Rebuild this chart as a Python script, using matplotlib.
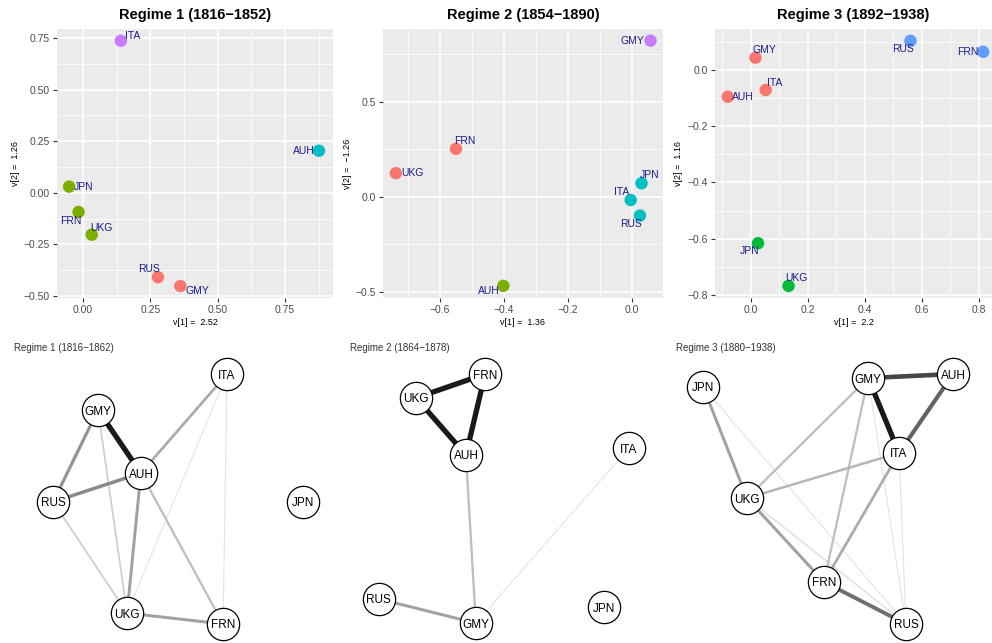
import numpy as np
import matplotlib.pyplot as plt
from matplotlib.ticker import FixedLocator

plt.rcParams['font.family'] = ['Liberation Sans', 'DejaVu Sans']

# --- Spectral embedding per regime (eigenvector coordinates) ---
COUNTRIES = ['AUH', 'FRN', 'GMY', 'ITA', 'JPN', 'RUS', 'UKG']

r1_v1 = [0.876, -0.017, 0.361, 0.140, -0.052, 0.278, 0.032]
r1_v2 = [0.204, -0.093, -0.452, 0.737, 0.030, -0.409, -0.203]
r1_cluster = [3, 2, 1, 4, 2, 1, 2]

r2_v1 = [-0.402, -0.550, 0.058, -0.004, 0.030, 0.025, -0.738]
r2_v2 = [-0.468, 0.253, 0.823, -0.016, 0.072, -0.098, 0.125]
r2_cluster = [2, 1, 4, 3, 3, 3, 1]

r3_v1 = [-0.081, 0.815, 0.016, 0.052, 0.025, 0.560, 0.132]
r3_v2 = [-0.095, 0.065, 0.044, -0.071, -0.616, 0.104, -0.768]
r3_cluster = [1, 3, 1, 1, 2, 3, 2]

eig_labels = [('v[1] =  2.52', 'v[2] =  1.26'),
              ('v[1] =  1.36', 'v[2] =  \u22121.26'),
              ('v[1] =  2.2', 'v[2] =  1.16')]
top_titles = ['Regime 1 (1816\u22121852)', 'Regime 2 (1854\u22121890)',
              'Regime 3 (1892\u22121938)']

# --- Alliance networks: layout coordinates and edge weights ---
net1_pos = {'ITA': (0.688, 0.934), 'GMY': (0.297, 0.809), 'AUH': (0.427, 0.590),
            'RUS': (0.161, 0.490), 'JPN': (0.918, 0.490), 'UKG': (0.385, 0.104),
            'FRN': (0.676, 0.066)}
net1_edges = [('GMY', 'AUH', 1.0), ('RUS', 'AUH', 0.6), ('GMY', 'RUS', 0.55),
              ('AUH', 'UKG', 0.5), ('AUH', 'ITA', 0.45), ('UKG', 'FRN', 0.5),
              ('AUH', 'FRN', 0.35), ('GMY', 'UKG', 0.25), ('RUS', 'UKG', 0.25),
              ('ITA', 'UKG', 0.1), ('ITA', 'FRN', 0.1)]

net2_pos = {'FRN': (0.470, 0.934), 'UKG': (0.261, 0.851), 'AUH': (0.412, 0.653),
            'ITA': (0.906, 0.677), 'RUS': (0.148, 0.153), 'GMY': (0.442, 0.069),
            'JPN': (0.830, 0.125)}
net2_edges = [('UKG', 'FRN', 1.0), ('FRN', 'AUH', 1.0), ('UKG', 'AUH', 1.0),
              ('AUH', 'GMY', 0.35), ('RUS', 'GMY', 0.5), ('GMY', 'ITA', 0.1)]

net3_pos = {'JPN': (0.130, 0.889), 'GMY': (0.627, 0.920), 'AUH': (0.883, 0.934),
            'ITA': (0.720, 0.660), 'UKG': (0.262, 0.503), 'FRN': (0.494, 0.212),
            'RUS': (0.741, 0.066)}
net3_edges = [('GMY', 'ITA', 1.0), ('GMY', 'AUH', 0.85), ('AUH', 'ITA', 0.75),
              ('FRN', 'RUS', 0.7), ('JPN', 'UKG', 0.5), ('UKG', 'FRN', 0.5),
              ('ITA', 'FRN', 0.45), ('UKG', 'ITA', 0.4), ('GMY', 'UKG', 0.35),
              ('GMY', 'FRN', 0.35), ('UKG', 'RUS', 0.15), ('JPN', 'RUS', 0.1),
              ('GMY', 'RUS', 0.1), ('ITA', 'RUS', 0.1)]
net_titles = ['Regime 1 (1816\u22121862)', 'Regime 2 (1864\u22121878)',
              'Regime 3 (1880\u22121938)']

# ggplot hue palettes
HUE4 = ['#F8766D', '#7CAE00', '#00BFC4', '#C77CFF']
HUE3 = ['#F8766D', '#00BA38', '#619CFF']

# label nudges in pixels (dx, dy, ha), dy positive = down
nudge1 = {'ITA': (4, -5, 'left'), 'AUH': (-4, 0, 'right'), 'JPN': (5, 0, 'left'),
          'FRN': (3, 9, 'right'), 'UKG': (-1, -7, 'left'), 'RUS': (2, -8, 'right'),
          'GMY': (5, 5, 'left')}
nudge2 = {'GMY': (-6, 0, 'right'), 'FRN': (-2, -8, 'left'), 'UKG': (5, 0, 'left'),
          'JPN': (-2, -8, 'left'), 'ITA': (-1, -8, 'right'), 'RUS': (2, 8, 'right'),
          'AUH': (-4, 5, 'right')}
nudge3 = {'RUS': (3, 8, 'right'), 'FRN': (-5, 0, 'right'), 'GMY': (-3, -8, 'left'),
          'ITA': (1, -7, 'left'), 'AUH': (4, 0, 'left'), 'JPN': (1, 8, 'right'),
          'UKG': (-3, -8, 'left')}

scatter_cfg = [
    (r1_v1, r1_v2, r1_cluster, HUE4, nudge1, (-0.097, 0.928), (-0.51, 0.794),
     [0.0, 0.25, 0.5, 0.75], [-0.5, -0.25, 0.0, 0.25, 0.5, 0.75], '{:.2f}', '{:.2f}'),
    (r2_v1, r2_v2, r2_cluster, HUE4, nudge2, (-0.778, 0.097), (-0.532, 0.884),
     [-0.6, -0.4, -0.2, 0.0], [-0.5, 0.0, 0.5], '{:.1f}', '{:.1f}'),
    (r3_v1, r3_v2, r3_cluster, HUE3, nudge3, (-0.126, 0.846), (-0.811, 0.146),
     [0.0, 0.2, 0.4, 0.6, 0.8], [-0.8, -0.6, -0.4, -0.2, 0.0], '{:.1f}', '{:.1f}'),
]

fig = plt.figure(figsize=(9.92, 6.43), dpi=100)
W, H = 992, 643

panel_px = [(57, 333), (383, 663), (715, 992)]
for i, cfg in enumerate(scatter_cfg):
    xs, ys, cl, pal, nudge, xl, yl, xt, yt, xf, yf = cfg
    x0, x1 = panel_px[i]
    ax = fig.add_axes([x0 / W, 1 - 298 / H, (x1 - x0) / W, 269 / H])
    ax.set_facecolor('#EBEBEB')
    ax.set_xlim(*xl)
    ax.set_ylim(*yl)
    ax.set_xticks(xt)
    ax.set_yticks(yt)
    ax.set_xticklabels([xf.format(v).replace('-', '\u2212') for v in xt])
    ax.set_yticklabels([yf.format(v).replace('-', '\u2212') for v in yt])
    sx = xt[1] - xt[0]
    sy = yt[1] - yt[0]
    ax.xaxis.set_minor_locator(FixedLocator(np.arange(xt[0] - sx * 1.5, xt[-1] + sx * 1.6, sx)))
    ax.yaxis.set_minor_locator(FixedLocator(np.arange(yt[0] - sy * 1.5, yt[-1] + sy * 1.6, sy)))
    ax.grid(which='major', color='white', linewidth=1.1)
    ax.grid(which='minor', color='white', linewidth=0.55)
    ax.set_axisbelow(True)
    for s in ax.spines.values():
        s.set_visible(False)
    ax.tick_params(which='major', length=3, color='#333333', labelsize=7.5,
                   labelcolor='#4D4D4D', width=0.8, pad=2)
    ax.tick_params(which='minor', length=0)
    ax.scatter(xs, ys, s=80, c=[pal[c - 1] for c in cl], linewidths=0, zorder=3)
    for name, x, y in zip(COUNTRIES, xs, ys):
        dx, dy, ha = nudge[name]
        ax.annotate(name, (x, y), xytext=(dx * 0.72, -dy * 0.72),
                    textcoords='offset points', ha=ha, va='center',
                    fontsize=7.5, color='#1C1C8C', zorder=4)
    ax.set_xlabel(eig_labels[i][0], fontsize=6.5, labelpad=2)
    ax.set_ylabel(eig_labels[i][1], fontsize=6.5, labelpad=3)
    ax.set_title(top_titles[i], fontsize=10.5, fontweight='bold', pad=7)

# bottom row: weighted alliance graphs
nets = [(net1_pos, net1_edges), (net2_pos, net2_edges), (net3_pos, net3_edges)]
region_px = [(0, 330), (330, 660), (660, 992)]
title_x = [14, 350, 676]
for i, (pos, edges) in enumerate(nets):
    x0, x1 = region_px[i]
    ax = fig.add_axes([x0 / W, 0, (x1 - x0) / W, 288 / H])
    ax.set_xlim(0, 1)
    ax.set_ylim(0, 1)
    ax.axis('off')
    for a, b, w in sorted(edges, key=lambda e: e[2]):
        g = 0.92 - 0.82 * w ** 1.5
        ax.plot([pos[a][0], pos[b][0]], [pos[a][1], pos[b][1]],
                color=(g, g, g), linewidth=0.5 + 3.3 * w,
                solid_capstyle='butt', zorder=1)
    for name, (x, y) in pos.items():
        ax.scatter([x], [y], s=540, facecolor='white', edgecolor='black',
                   linewidths=0.9, zorder=2)
        ax.text(x, y, name, ha='center', va='center_baseline', fontsize=8.5, zorder=3)
    fig.text(title_x[i] / W, 1 - 348 / H, net_titles[i], fontsize=7,
             color='#333333', ha='left', va='center')

fig.savefig('out.png', dpi=100)
